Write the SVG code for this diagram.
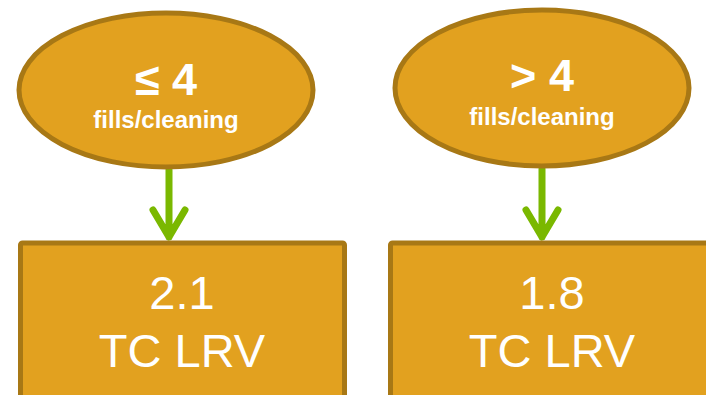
<svg xmlns="http://www.w3.org/2000/svg" width="706" height="395" viewBox="0 0 706 395">
<defs>
<style>
.node{fill:#E2A11F;stroke:#A87815;stroke-width:5}
.big{font-family:"Liberation Sans",Arial,sans-serif;font-weight:bold;font-size:45px;fill:#fff;text-anchor:middle}
.small{font-family:"Liberation Sans",Arial,sans-serif;font-weight:bold;font-size:24px;fill:#fff;text-anchor:middle}
.box{font-family:"Liberation Sans",Arial,sans-serif;font-size:47px;fill:#fff;text-anchor:middle}
.conn{stroke:#7AB800;stroke-width:7;fill:none;stroke-linecap:round;stroke-linejoin:round}
</style>
</defs>
<g id="connectors">
<path class="conn" d="M169 170 V237 M153 210 L169 237 L185 210"/>
<path class="conn" d="M542 169 V237 M526 210 L542 237 L558 210"/>
</g>
<g id="cond-le4">
<ellipse class="node" cx="166" cy="90" rx="147" ry="77"/>
<text class="big" x="166" y="95">≤ 4</text>
<text class="small" x="166" y="128">fills/cleaning</text>
</g>
<g id="cond-gt4">
<ellipse class="node" cx="542" cy="88" rx="147" ry="78"/>
<text class="big" x="542" y="91">&gt; 4</text>
<text class="small" x="542" y="125">fills/cleaning</text>
</g>
<g id="result-21">
<rect class="node" x="20.5" y="243" width="324" height="170" rx="2"/>
<text class="box" x="182" y="309">2.1</text>
<text class="box" x="182" y="367">TC LRV</text>
</g>
<g id="result-18">
<rect class="node" x="390.5" y="243" width="340" height="170" rx="2"/>
<text class="box" x="552" y="309">1.8</text>
<text class="box" x="552" y="367">TC LRV</text>
</g>
</svg>
